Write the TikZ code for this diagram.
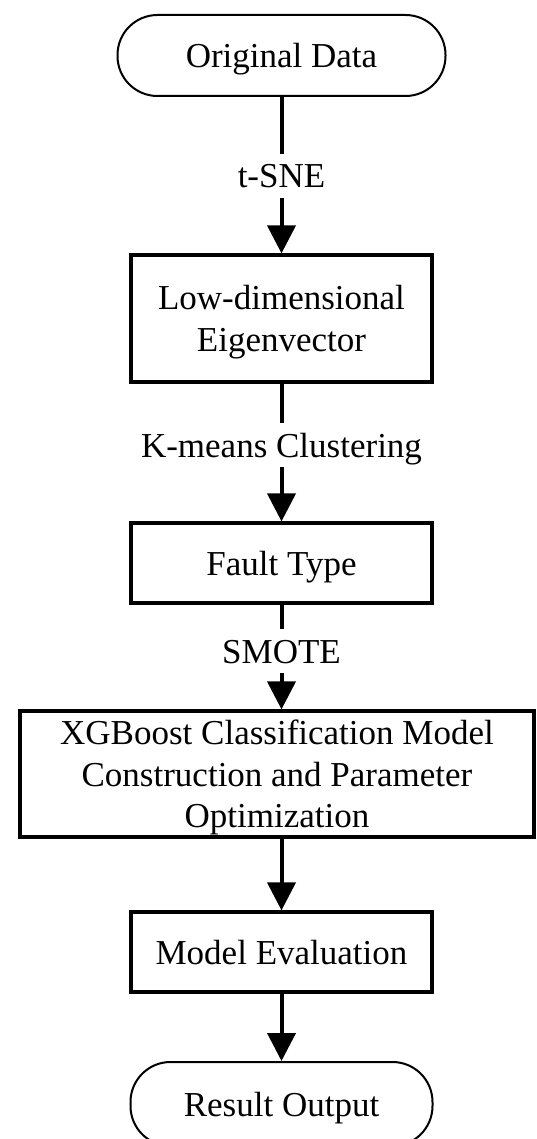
\documentclass[tikz,border=0pt]{standalone}
\usepackage{fontspec}
\setmainfont{Liberation Serif}
\usetikzlibrary{arrows.meta}
\begin{document}
\begin{tikzpicture}[x=1pt,y=-1pt,
  every node/.style={font=\fontsize{35}{41.5}\selectfont},
  boxnode/.style={draw, line width=3.2pt, inner sep=0pt, align=center, text depth=0pt},
  term/.style={draw, line width=2pt, rounded corners=40pt, inner sep=0pt, text depth=0pt},
  lab/.style={inner sep=0pt, text height=34pt, text depth=10pt, anchor=base},
  ln/.style={line width=4pt},
  arr/.style={line width=4pt, -{Triangle[width=28pt,length=28pt]}}]
\useasboundingbox (0,0) rectangle (536,1139);

\node[term, minimum width=328pt, minimum height=81pt] (orig) at (281.5,55.5) {Original Data};
\node[boxnode, minimum width=301pt, minimum height=127pt] (low) at (281.5,318.5) {Low-dimensional\\Eigenvector};
\node[boxnode, minimum width=301pt, minimum height=80pt] (fault) at (281.5,563) {Fault Type};
\node[boxnode, minimum width=514pt, minimum height=126pt] (xgb) at (277,774) {XGBoost Classification Model\\Construction and Parameter\\Optimization};
\node[boxnode, minimum width=301pt, minimum height=80pt] (eval) at (281.5,952) {Model Evaluation};
\node[term, minimum width=302pt, minimum height=84pt] (res) at (281.5,1104) {Result Output};

\node[lab] (l1) at (281.5,188) {t-SNE};
\node[lab] (l2) at (281.5,457) {K-means Clustering};
\node[lab] (l3) at (281.5,663) {SMOTE};

\draw[ln] (orig) -- (l1);
\draw[arr] (l1) -- (low);
\draw[ln] (low) -- (l2);
\draw[arr] (l2) -- (fault);
\draw[ln] (fault) -- (l3);
\draw[arr] (l3) -- (l3 |- xgb.north);
\draw[arr] (xgb.south -| eval) -- (eval);
\draw[arr] (eval) -- (res);
\end{tikzpicture}
\end{document}
